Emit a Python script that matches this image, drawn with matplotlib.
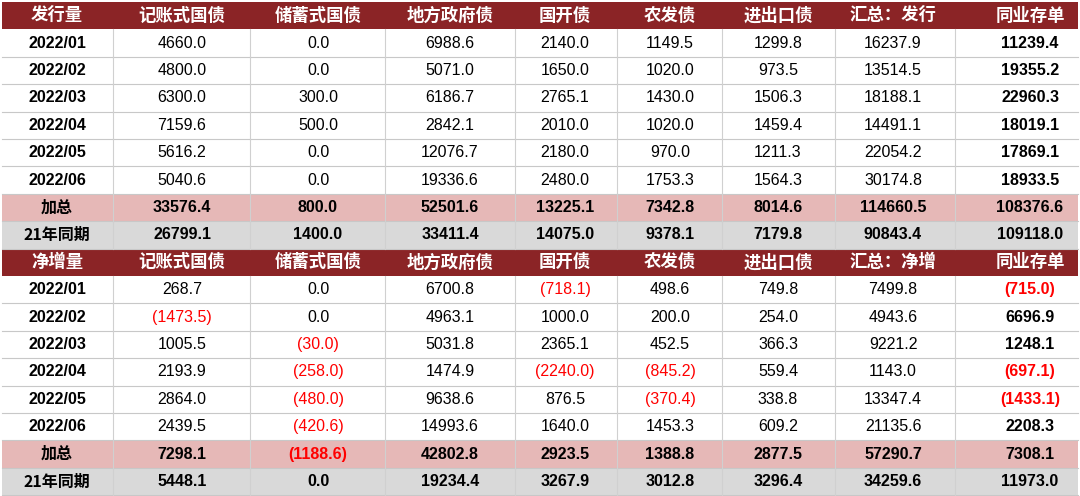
import matplotlib
matplotlib.use("Agg")
import matplotlib.pyplot as plt
from matplotlib.patches import Rectangle

plt.rcParams["font.family"] = ["Noto Sans CJK SC"]

headers1 = ["发行量", "记账式国债", "储蓄式国债", "地方政府债", "国开债", "农发债", "进出口债", "汇总：发行", "同业存单"]
headers2 = ["净增量", "记账式国债", "储蓄式国债", "地方政府债", "国开债", "农发债", "进出口债", "汇总：净增", "同业存单"]
months = ["2022/01", "2022/02", "2022/03", "2022/04", "2022/05", "2022/06"]
issue = [
    [4660.0, 0.0, 6988.6, 2140.0, 1149.5, 1299.8, 16237.9, 11239.4],
    [4800.0, 0.0, 5071.0, 1650.0, 1020.0, 973.5, 13514.5, 19355.2],
    [6300.0, 300.0, 6186.7, 2765.1, 1430.0, 1506.3, 18188.1, 22960.3],
    [7159.6, 500.0, 2842.1, 2010.0, 1020.0, 1459.4, 14491.1, 18019.1],
    [5616.2, 0.0, 12076.7, 2180.0, 970.0, 1211.3, 22054.2, 17869.1],
    [5040.6, 0.0, 19336.6, 2480.0, 1753.3, 1564.3, 30174.8, 18933.5],
]
issue_total = [33576.4, 800.0, 52501.6, 13225.1, 7342.8, 8014.6, 114660.5, 108376.6]
issue_21 = [26799.1, 1400.0, 33411.4, 14075.0, 9378.1, 7179.8, 90843.4, 109118.0]
net = [
    [268.7, 0.0, 6700.8, -718.1, 498.6, 749.8, 7499.8, -715.0],
    [-1473.5, 0.0, 4963.1, 1000.0, 200.0, 254.0, 4943.6, 6696.9],
    [1005.5, -30.0, 5031.8, 2365.1, 452.5, 366.3, 9221.2, 1248.1],
    [2193.9, -258.0, 1474.9, -2240.0, -845.2, 559.4, 1143.0, -697.1],
    [2864.0, -480.0, 9638.6, 876.5, -370.4, 338.8, 13347.4, -1433.1],
    [2439.5, -420.6, 14993.6, 1640.0, 1453.3, 609.2, 21135.6, 2208.3],
]
net_total = [7298.1, -1188.6, 42802.8, 2923.5, 1388.8, 2877.5, 57290.7, 7308.1]
net_21 = [5448.1, 0.0, 19234.4, 3267.9, 3012.8, 3296.4, 34259.6, 11973.0]

W, H = 1080, 496
fig = plt.figure(figsize=(W / 100, H / 100), dpi=100)
ax = fig.add_axes([0, 0, 1, 1])
ax.set_xlim(0, W)
ax.set_ylim(H, 0)
ax.axis("off")

xb = [2, 113, 250, 385, 515, 617, 722, 835, 955, 1078]
xc = [57, 182, 318, 450, 565, 670, 778, 893, 1030]
top, rh = 2, 27.4
RED, PINK, GRAY = "#8B2426", "#E6B8B7", "#D9D9D9"

def fmt(v):
    return f"({abs(v):.1f})" if v < 0 else f"{v:.1f}"

rows = []
for hdr, data, tot, ly in ((headers1, issue, issue_total, issue_21), (headers2, net, net_total, net_21)):
    rows.append(("header", hdr))
    for m, r in zip(months, data):
        rows.append(("data", [m] + r))
    rows.append(("total", ["加总"] + tot))
    rows.append(("ly", ["21年同期"] + ly))

for i, (kind, vals) in enumerate(rows):
    y0 = top + i * rh
    yc = y0 + rh / 2
    bg = {"header": RED, "total": PINK, "ly": GRAY}.get(kind, "white")
    ax.add_patch(Rectangle((xb[0], y0), xb[-1] - xb[0], rh, facecolor=bg, edgecolor="none"))
    if kind != "header":
        ax.plot([xb[0], xb[-1]], [y0 + rh, y0 + rh], color="#C8C8C8", lw=0.8)
        for x in xb[1:-1]:
            ax.plot([x, x], [y0, y0 + rh], color="#D0D0D0", lw=0.8)
    for j, v in enumerate(vals):
        if kind == "header":
            ax.text(xc[j], yc, v, ha="center", va="center", fontsize=12.5, color="white", fontweight="bold")
            continue
        if j == 0:
            txt, col = v, "black"
        else:
            txt = fmt(v)
            col = "red" if v < 0 else "black"
        bold = j == 0 or j == 8 or kind in ("total", "ly")
        ax.text(xc[j], yc, txt, ha="center", va="center", fontsize=11.5, color=col,
                fontweight="bold" if bold else "normal",
                family="Liberation Sans" if j > 0 or kind == "data" else None)

fig.savefig("out.png", dpi=100)
